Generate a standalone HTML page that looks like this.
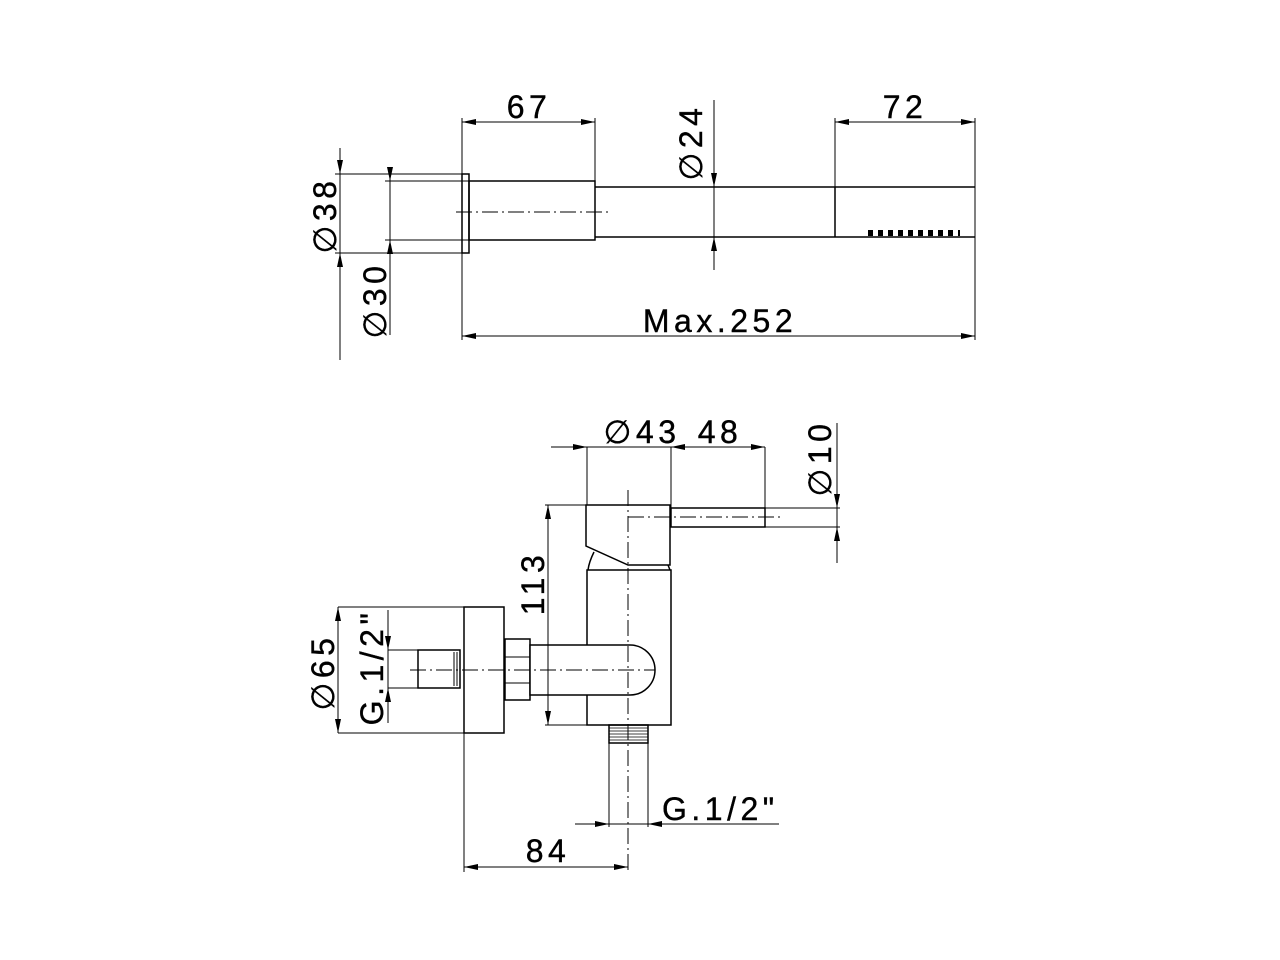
<!DOCTYPE html>
<html><head><meta charset="utf-8"><style>
html,body{margin:0;padding:0;background:#fff;}
svg{display:block;}
text{font-family:"Liberation Sans","DejaVu Sans",sans-serif;font-size:32px;letter-spacing:4.5px;fill:#000;stroke:#000;stroke-width:0.4px;}
</style></head><body>
<svg width="1280" height="960" viewBox="0 0 1280 960" xmlns="http://www.w3.org/2000/svg">
<g stroke="#000" stroke-width="1" fill="none">
<!-- TOP VIEW -->
<line x1="462" y1="118" x2="462" y2="340"/>
<line x1="595" y1="118" x2="595" y2="188"/>
<line x1="835" y1="118" x2="835" y2="187"/>
<line x1="975" y1="118" x2="975" y2="340"/>
<line x1="462" y1="122" x2="595" y2="122"/>
<line x1="835" y1="122" x2="975" y2="122"/>
<line x1="462" y1="336" x2="975" y2="336"/>
<line x1="714" y1="100" x2="714" y2="270"/>
<line x1="340" y1="148" x2="340" y2="360"/>
<line x1="335" y1="174" x2="462" y2="174"/>
<line x1="335" y1="253" x2="462" y2="253"/>
<line x1="390" y1="173" x2="390" y2="335"/>
<line x1="385" y1="181" x2="469" y2="181"/>
<line x1="385" y1="240" x2="469" y2="240"/>
<rect x="462" y="174" width="7" height="79" stroke-width="1.5"/>
<rect x="469" y="181" width="126" height="59" stroke-width="1.5"/>
<line x1="595" y1="187" x2="975" y2="187" stroke-width="1.5"/>
<line x1="595" y1="237" x2="975" y2="237" stroke-width="1.5"/>
<line x1="835" y1="187" x2="835" y2="237" stroke-width="1.5"/>
<line x1="456" y1="212" x2="608" y2="212" stroke-dasharray="16,4,2,4"/>
<line x1="868" y1="233" x2="960" y2="233" stroke-width="6" stroke-dasharray="5,5"/>

<!-- BOTTOM VIEW -->
<line x1="551" y1="447" x2="765" y2="447"/>
<line x1="587" y1="447" x2="587" y2="505"/>
<line x1="671" y1="447" x2="671" y2="512"/>
<line x1="765" y1="447" x2="765" y2="512"/>
<line x1="837" y1="423" x2="837" y2="563"/>
<line x1="765" y1="508" x2="840" y2="508"/>
<line x1="765" y1="527" x2="840" y2="527"/>
<rect x="671" y="508" width="94" height="19" stroke-width="1.5"/>
<path d="M586,505 L670,505 L670,565 L628,565 L586,546 Z" stroke-width="1.5" fill="#fff"/>
<path d="M594,552 Q589,562 588,570 M668,565 L670,570" stroke-width="1.5"/>
<rect x="587" y="570" width="84" height="155" stroke-width="1.5"/>
<rect x="464" y="607" width="40" height="126" stroke-width="1.5"/>
<rect x="505" y="639" width="25" height="61" stroke-width="1.5"/>
<line x1="505" y1="657" x2="530" y2="657"/>
<line x1="505" y1="683" x2="530" y2="683"/>
<path d="M530,645 L630,645 A25,25 0 0 1 630,695 L530,695 Z" stroke-width="1.5" fill="#fff"/>
<rect x="418" y="650" width="42" height="38" stroke-width="1.5"/>
<line x1="454" y1="652" x2="454" y2="686"/>
<line x1="457" y1="652" x2="457" y2="686"/>
<line x1="410" y1="670" x2="655" y2="670" stroke-dasharray="16,4,2,4"/>
<line x1="628" y1="490" x2="628" y2="872" stroke-dasharray="16,4,2,4"/>
<line x1="628" y1="517" x2="780" y2="517" stroke-dasharray="16,4,2,4"/>
<rect x="609" y="725" width="39" height="18" stroke-width="1.5"/>
<path d="M609,728H648M609,731H648M609,734H648M609,737H648M609,740H648" stroke-width="0.8"/>
<line x1="609" y1="743" x2="609" y2="827"/>
<line x1="648" y1="743" x2="648" y2="827"/>
<line x1="575" y1="824" x2="779" y2="824"/>
<line x1="464" y1="733" x2="464" y2="872"/>
<line x1="464" y1="867" x2="628" y2="867"/>
<line x1="548" y1="505" x2="548" y2="725"/>
<line x1="545" y1="505" x2="587" y2="505"/>
<line x1="545" y1="725" x2="587" y2="725"/>
<line x1="338" y1="607" x2="338" y2="733"/>
<line x1="338" y1="607" x2="464" y2="607"/>
<line x1="338" y1="733" x2="464" y2="733"/>
<line x1="388" y1="610" x2="388" y2="723"/>
<line x1="388" y1="650" x2="418" y2="650"/>
<line x1="388" y1="688" x2="418" y2="688"/>
</g>
<g fill="#000">
<polygon points="462,122 476,119 476,125"/>
<polygon points="595,122 581,119 581,125"/>
<polygon points="835,122 849,119 849,125"/>
<polygon points="975,122 961,119 961,125"/>
<polygon points="462,336 476,333 476,339"/>
<polygon points="975,336 961,333 961,339"/>
<polygon points="714,187 711,173 717,173"/>
<polygon points="714,237 711,251 717,251"/>
<polygon points="340,174 337,160 343,160"/>
<polygon points="340,253 337,267 343,267"/>
<polygon points="390,181 387,167 393,167"/>
<polygon points="390,240 387,254 393,254"/>
<polygon points="587,447 573,444 573,450"/>
<polygon points="671,447 685,444 685,450"/>
<polygon points="765,447 751,444 751,450"/>
<polygon points="837,508 834,494 840,494"/>
<polygon points="837,527 834,541 840,541"/>
<polygon points="548,505 545,519 551,519"/>
<polygon points="548,725 545,711 551,711"/>
<polygon points="338,607 335,621 341,621"/>
<polygon points="338,733 335,719 341,719"/>
<polygon points="388,650 385,636 391,636"/>
<polygon points="388,688 385,702 391,702"/>
<polygon points="609,824 595,821 595,827"/>
<polygon points="648,824 662,821 662,827"/>
<polygon points="464,867 478,864 478,870"/>
<polygon points="628,867 614,864 614,870"/>
</g>
<text x="529" y="118" text-anchor="middle">67</text>
<text x="905" y="118" text-anchor="middle">72</text>
<text x="720" y="332" text-anchor="middle">Max.252</text>
<text transform="translate(702,142) rotate(-90)" text-anchor="middle">∅24</text>
<text transform="translate(336,215) rotate(-90)" text-anchor="middle">∅38</text>
<text transform="translate(386,300) rotate(-90)" text-anchor="middle">∅30</text>
<text x="642" y="443" text-anchor="middle">∅43</text>
<text x="720" y="443" text-anchor="middle">48</text>
<text transform="translate(831,458) rotate(-90)" text-anchor="middle">∅10</text>
<text transform="translate(544,583) rotate(-90)" text-anchor="middle">113</text>
<text transform="translate(334,672) rotate(-90)" text-anchor="middle">∅65</text>
<text transform="translate(383,667) rotate(-90)" text-anchor="middle">G.1/2"</text>
<text x="662" y="820">G.1/2"</text>
<text x="548" y="862" text-anchor="middle">84</text>
</svg>
</body></html>
